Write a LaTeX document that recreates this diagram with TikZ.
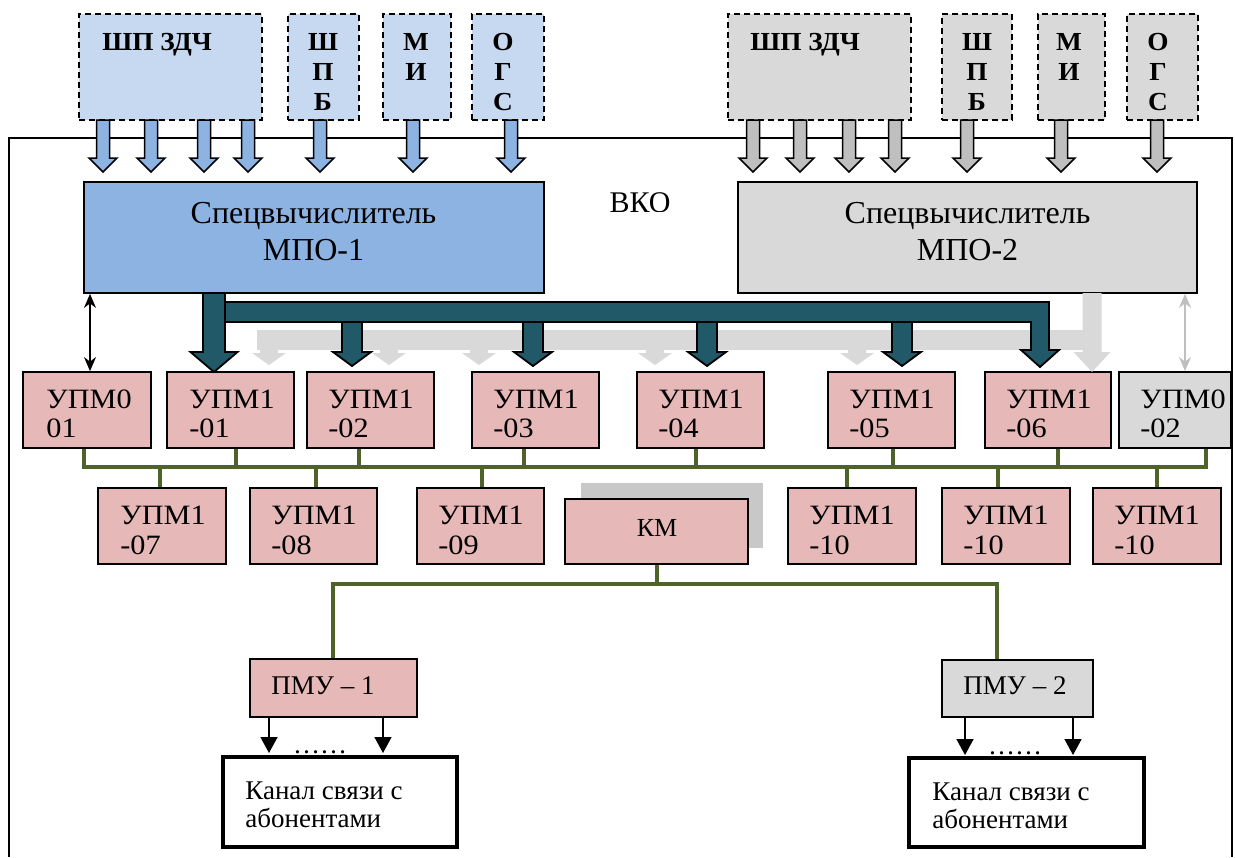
\documentclass[tikz,border=0pt]{standalone}
\usepackage{fontspec}
\setmainfont{Liberation Serif}
\newfontfamily\upmfont{Liberation Serif}[FakeStretch=1.08]
\newfontfamily\lblfont{Liberation Serif}[FakeStretch=1.05]
\usetikzlibrary{fit,arrows.meta}
\definecolor{topblue}{HTML}{C6D9F1}
\definecolor{arrblue}{HTML}{8DB3E2}
\definecolor{mpoblue}{HTML}{8DB3E2}
\definecolor{boxgray}{HTML}{D9D9D9}
\definecolor{arrgray}{HTML}{BFBFBF}
\definecolor{tealbus}{HTML}{215968}
\definecolor{graybus}{HTML}{D9D9D9}
\definecolor{upmpink}{HTML}{E6B9B8}
\definecolor{busgreen}{HTML}{4F6228}
\definecolor{shadowgray}{HTML}{C8C8C8}
\newcommand\blockdown[7]{%
  \draw[#1] ({#2-#6},#3) -- ({#2+#6},#3) -- ({#2+#6},#4) -- ({#2+#7},#4) -- (#2,#5) -- ({#2-#7},#4) -- ({#2-#6},#4) -- cycle;}
\begin{document}
\begin{tikzpicture}[x=0.5pt,y=-0.5pt,
  dashbox/.style={draw, line width=0.8pt, dash pattern=on 3pt off 2pt, inner sep=0pt},
  boxA/.style={draw, line width=0.9pt, inner sep=0pt},
  txt/.style={inner sep=0pt, font=\fontsize{13.5}{15}\selectfont},
  upmtxt/.style={inner sep=0pt, font=\upmfont\fontsize{14}{15}\selectfont},
  kmtxt/.style={inner sep=0pt, font=\fontsize{13}{15}\selectfont},
  btxt/.style={inner sep=0pt, font=\lblfont\fontsize{13}{15}\selectfont\bfseries},
  bigtxt/.style={inner sep=0pt, font=\fontsize{16}{18}\selectfont},
  vkotxt/.style={inner sep=0pt, font=\fontsize{15}{18}\selectfont},
  bus/.style={draw=busgreen, line width=2pt},
  bluearr/.style={fill=arrblue, draw=black, line width=0.75pt},
  grayarr/.style={fill=arrgray, draw=black, line width=0.75pt},
  tealarr/.style={fill=tealbus, draw=black, line width=0.9pt, line join=miter},
  ghost/.style={fill=graybus, draw=none},
  kanal/.style={draw, line width=1.8pt, inner sep=0pt, fill=white},
  pmuarrow/.style={line width=0.75pt, -{Triangle[length=8pt,width=8.5pt]}},
  dbl/.style={line width=0.6pt, {Stealth[length=7pt,width=6pt]}-{Stealth[length=7pt,width=6pt]}}
]
\useasboundingbox (0,0) rectangle (1235,857);
% outer frame
\draw[line width=0.8pt] (9,857) |- (1232,138) -- (1232,857);

% top source blocks (left, blue)
\node[dashbox, fill=topblue, fit={(79,14) (262,120)}] (zdchA) {};
\node[dashbox, fill=topblue, fit={(288,14) (359,120)}] (shpbA) {};
\node[dashbox, fill=topblue, fit={(383,14) (451,120)}] (miA) {};
\node[dashbox, fill=topblue, fit={(472,14) (544,120)}] (ogsA) {};
\node[btxt, anchor=base west] (zdchAt) at (102,50) {ШП ЗДЧ};
\foreach \ch [count=\i] in {Ш,П,Б} \node[btxt, anchor=base] (shpbAt\i) at (323,{20+30*\i}) {\ch};
\foreach \ch [count=\i] in {М,И} \node[btxt, anchor=base] (miAt\i) at (416,{20+30*\i}) {\ch};
\foreach \ch [count=\i] in {О,Г,С} \node[btxt, anchor=base] (ogsAt\i) at (503,{20+30*\i}) {\ch};

% top source blocks (right, gray)
\node[dashbox, fill=boxgray, fit={(728,14) (911,120)}] (zdchB) {};
\node[dashbox, fill=boxgray, fit={(942,14) (1012,120)}] (shpbB) {};
\node[dashbox, fill=boxgray, fit={(1038,14) (1105,120)}] (miB) {};
\node[dashbox, fill=boxgray, fit={(1127,14) (1198,120)}] (ogsB) {};
\node[btxt, anchor=base west] (zdchBt) at (750,50) {ШП ЗДЧ};
\foreach \ch [count=\i] in {Ш,П,Б} \node[btxt, anchor=base] (shpbBt\i) at (977,{20+30*\i}) {\ch};
\foreach \ch [count=\i] in {М,И} \node[btxt, anchor=base] (miBt\i) at (1069,{20+30*\i}) {\ch};
\foreach \ch [count=\i] in {О,Г,С} \node[btxt, anchor=base] (ogsBt\i) at (1158,{20+30*\i}) {\ch};

% input block arrows
\foreach \x in {103,151,204,248,320,413,511} {\blockdown{bluearr}{\x}{120}{158}{172}{6.5}{14}}
\foreach \x in {753,800,849,895,967,1061,1157} {\blockdown{grayarr}{\x}{120}{158}{172}{6.5}{14}}

% special computers
\node[boxA, fill=mpoblue, fit={(84,182) (544,293)}] (mpoA) {};
\node[bigtxt, anchor=base] (mpoAt1) at (313.5,223) {Спецвычислитель};
\node[bigtxt, anchor=base] (mpoAt2) at (313.5,260) {МПО-1};
\node[boxA, fill=boxgray, fit={(738,182) (1197,293)}] (mpoB) {};
\node[bigtxt, anchor=base] (mpoBt1) at (967.5,223) {Спецвычислитель};
\node[bigtxt, anchor=base] (mpoBt2) at (967.5,260) {МПО-2};

% VKO label (clipped as in the original)
\begin{scope}
\clip (595,180) rectangle (690,211);
\node[vkotxt, anchor=base] (vko) at (640,212) {ВКО};
\end{scope}

% upper row of UPM modules
\node[boxA, fill=upmpink, fit={(23,372) (151,448)}] (u00) {};
\node[boxA, fill=upmpink, fit={(167,372) (294,448)}] (u01) {};
\node[boxA, fill=upmpink, fit={(307,372) (434,448)}] (u02) {};
\node[boxA, fill=upmpink, fit={(472,372) (599,448)}] (u03) {};
\node[boxA, fill=upmpink, fit={(637,372) (764,448)}] (u04) {};
\node[boxA, fill=upmpink, fit={(828,372) (955,448)}] (u05) {};
\node[boxA, fill=upmpink, fit={(985,372) (1111,448)}] (u06) {};
\node[boxA, fill=boxgray, fit={(1119,372) (1231,448)}] (u0g) {};
\node[upmtxt, anchor=base west] (u00t1) at (46,408) {УПМ0};
\node[upmtxt, anchor=base west] (u00t2) at (46,437) {01};
\foreach \x/\n/\s in {189/u01/-01, 328/u02/-02, 493/u03/-03, 658/u04/-04, 849/u05/-05, 1006/u06/-06} {
  \node[upmtxt, anchor=base west] (\n t1) at (\x,408) {УПМ1};
  \node[upmtxt, anchor=base west] (\n t2) at (\x,437) {\s};
}
\node[upmtxt, anchor=base west] (u0gt1) at (1140,408) {УПМ0};
\node[upmtxt, anchor=base west] (u0gt2) at (1140,437) {-02};

% gray bus of MPO-2
\fill[graybus] (257,330) rectangle (1090,350);
\blockdown{ghost}{1092}{293}{352}{372}{9.5}{18.5}
\foreach \x in {269,389,479,655,857} {\blockdown{ghost}{\x}{348}{353}{365}{9}{17}}

% teal bus of MPO-1
\blockdown{tealarr}{214}{293}{352}{372}{11}{23.5}
\draw[tealarr] (225,302) -- (1049,302) -- (1049,350) -- (1059,350) -- (1040,367) -- (1021,350) -- (1031,350) -- (1031,322) -- (225,322) -- cycle;
\foreach \x in {352,533,707,902} {\blockdown{tealarr}{\x}{322}{352}{366}{10}{19}}

% double arrows MPO <-> UPM0
\draw[dbl] (90,0 |- mpoA.south) -- (90,0 |- u00.north);
\draw[dbl, color=arrgray] (1185,0 |- mpoB.south) -- (1185,0 |- u0g.north);

% lower row of UPM modules
\node[boxA, fill=upmpink, fit={(98,488) (226,564)}] (u07) {};
\node[boxA, fill=upmpink, fit={(250,488) (377,564)}] (u08) {};
\node[boxA, fill=upmpink, fit={(417,488) (544,564)}] (u09) {};
\node[boxA, fill=upmpink, fit={(788,488) (916,564)}] (u10a) {};
\node[boxA, fill=upmpink, fit={(942,488) (1070,564)}] (u10b) {};
\node[boxA, fill=upmpink, fit={(1093,488) (1221,564)}] (u10c) {};
\foreach \x/\n in {120/u07, 271/u08, 438/u09, 809/u10a, 963/u10b, 1114/u10c} {
  \node[upmtxt, anchor=base west] (\n t1) at (\x,524) {УПМ1};
}
\begin{scope}
\clip (90,488) rectangle (1225,555);
\foreach \x/\n/\s in {120/u07/-07, 271/u08/-08, 438/u09/-09, 809/u10a/-10, 963/u10b/-10, 1114/u10c/-10} {
  \node[upmtxt, anchor=base west] (\n t2) at (\x,554) {\s};
}
\end{scope}

% KM with shadow
\fill[shadowgray] (581,483) rectangle (763,548);
\node[boxA, fill=upmpink, fit={(565,499) (748,564)}] (km) {};
\node[kmtxt, anchor=base] (kmt) at (657,536) {КМ};

% green module bus
\coordinate (busy) at (0,467);
\draw[bus] (84,0 |- u00.south) |- (1206,0 |- busy) -- (1206,0 |- u0g.south);
\foreach \x/\n in {236/u01, 359/u02, 524/u03, 696/u04, 893/u05, 1058/u06} {
  \draw[bus] (\x,0 |- \n.south) -- (\x,0 |- busy);
}
\foreach \x/\n in {160/u07, 316/u08, 482/u09, 847/u10a, 998/u10b, 1157/u10c} {
  \draw[bus] (\x,0 |- busy) -- (\x,0 |- \n.north);
}

% PMU
\node[boxA, fill=upmpink, fit={(250,659) (417,717)}] (pmuA) {};
\node[txt, anchor=base west] (pmuAt) at (271,694) {ПМУ – 1};
\node[boxA, fill=boxgray, fit={(942,660) (1093,717)}] (pmuB) {};
\node[txt, anchor=base west] (pmuBt) at (963,694) {ПМУ – 2};
\coordinate (lowbus) at (0,584);
\draw[bus] (km.south) -- (km.south |- lowbus);
\draw[bus] (333,0 |- pmuA.north) |- (997,0 |- lowbus) -- (997,0 |- pmuB.north);

% channels
\node[kanal, fit={(223,757) (457,847)}] (kanA) {};
\node[txt, anchor=base west] (kanAt1) at (245,799) {Канал связи с};
\node[txt, anchor=base west] (kanAt2) at (245,827) {абонентами};
\node[kanal, fit={(909,758) (1144,847)}] (kanB) {};
\node[txt, anchor=base west] (kanBt1) at (932,800) {Канал связи с};
\node[txt, anchor=base west] (kanBt2) at (932,828) {абонентами};

\draw[pmuarrow] (269,0 |- pmuA.south) -- (269,753);
\draw[pmuarrow] (383,0 |- pmuA.south) -- (383,753);
\draw[pmuarrow] (965,0 |- pmuB.south) -- (965,755);
\draw[pmuarrow] (1073,0 |- pmuB.south) -- (1073,755);
\node[txt, anchor=base] (dotsA) at (320,753) {……};
\node[txt, anchor=base] (dotsB) at (1015,754) {……};
\end{tikzpicture}
\end{document}
